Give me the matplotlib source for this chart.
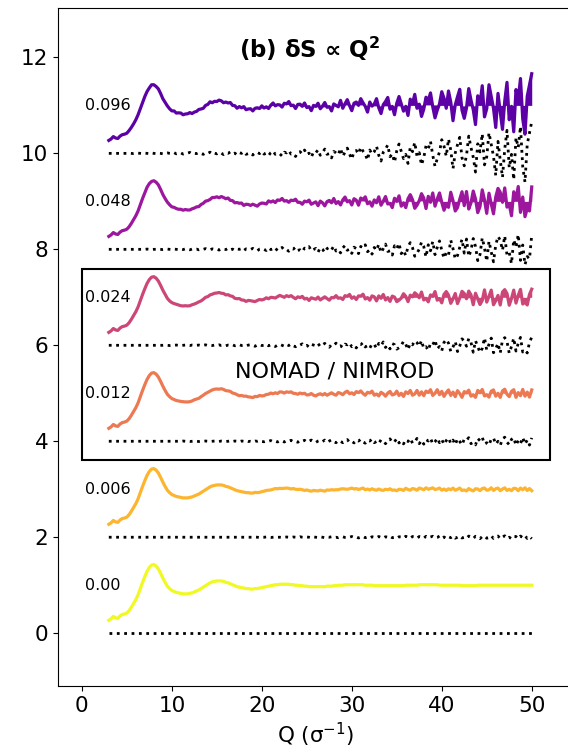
import numpy as np
import matplotlib
matplotlib.use("Agg")
import matplotlib.pyplot as plt
from matplotlib.patches import Rectangle

# S(Q), every 0.25 from Q = 3 to Q = 50
s_base = [
    0.27, 0.30, 0.35, 0.32, 0.31, 0.36, 0.39, 0.40,
    0.42, 0.47, 0.54, 0.62, 0.70, 0.80, 0.93, 1.06,
    1.18, 1.29, 1.37, 1.42, 1.43, 1.40, 1.34, 1.25,
    1.15, 1.06, 0.98, 0.93, 0.89, 0.87, 0.85, 0.84,
    0.83, 0.82, 0.82, 0.82, 0.83, 0.84, 0.86, 0.88,
    0.90, 0.93, 0.96, 0.99, 1.02, 1.05, 1.07, 1.08,
    1.09, 1.09, 1.09, 1.08, 1.06, 1.05, 1.03, 1.01,
    0.99, 0.97, 0.96, 0.95, 0.94, 0.93, 0.93, 0.92,
    0.92, 0.93, 0.93, 0.94, 0.95, 0.96, 0.97, 0.98,
    0.99, 1.00, 1.01, 1.01, 1.02, 1.02, 1.02, 1.02,
    1.02, 1.01, 1.01, 1.00, 1.00, 0.99, 0.99, 0.98,
    0.98, 0.97, 0.97, 0.97, 0.97, 0.97, 0.97, 0.97,
    0.97, 0.98, 0.98, 0.98, 0.99, 0.99, 1.00, 1.00,
    1.00, 1.01, 1.01, 1.01, 1.01, 1.01, 1.01, 1.01,
    1.01, 1.01, 1.00, 1.00, 1.00, 1.00, 0.99, 0.99,
    0.99, 0.99, 0.99, 0.99, 0.99, 0.99, 0.99, 0.99,
    0.99, 0.99, 0.99, 0.99, 1.00, 1.00, 1.00, 1.00,
    1.00, 1.00, 1.01, 1.01, 1.01, 1.01, 1.01, 1.01,
    1.01, 1.01, 1.01, 1.00, 1.00, 1.00, 1.00, 1.00,
    1.00, 1.00, 1.00, 1.00, 1.00, 0.99, 0.99, 0.99,
    0.99, 0.99, 0.99, 0.99, 1.00, 1.00, 1.00, 1.00,
    1.00, 1.00, 1.00, 1.00, 1.00, 1.00, 1.00, 1.00,
    1.00, 1.00, 1.00, 1.00, 1.00, 1.00, 1.00, 1.00,
    1.00, 1.00, 1.00, 1.00, 1.00,
]

# deviations from S(Q) for each noise level, in units of 1e-3 (same Q grid)
dev_096 = [
    0, 0, 0, 0, 0, 0, 0, 0,
    0, 5, 0, -5, 0, 5, 0, -5,
    5, 0, -5, 10, 0, -5, 5, 0,
    -10, 5, 10, 0, -5, 15, -10, 5,
    10, -15, 0, 5, 20, -10, 0, -5,
    15, -5, -20, 10, 0, 25, -15, 5,
    -10, 20, 5, -25, 10, 0, 30, -10,
    5, -30, 15, 0, 35, -20, -5, 10,
    -35, 10, 20, -5, 40, -15, 0, -45,
    15, 50, -20, 5, -10, -55, 25, 10,
    60, -15, -5, -65, 20, 35, -10, 70,
    -25, 5, -80, 30, 10, 75, -40, 15,
    90, -20, -5, -95, 40, 10, -30, 105,
    -60, 25, 110, -15, -120, 35, 60, -10,
    130, 45, -20, -140, 70, -15, 35, 150,
    -40, -160, 25, 90, 175, -70, -10, -185,
    55, 195, 40, -110, -20, -210, 130, 35,
    230, -60, 15, -240, -90, 160, 95, 250,
    -40, -270, -110, 30, 285, 150, -60, 300,
    70, -320, 10, 180, 335, -90, -260, -45,
    360, 120, -80, -390, 200, 30, 410, -240,
    -70, 430, 180, -60, -460, 250, -140, -500,
    90, 480, -300, -20, -550, 330, 120, 560,
    -280, -600, 190, 420, 660,
]
dev_048 = [
    0, 0, 0, 0, 0, 0, 0, 0,
    0, 0, 0, 0, 0, 0, 0, 0,
    0, 5, 0, -5, 0, 0, 5, 0,
    -5, 0, 5, 0, -5, 5, 0, -5,
    5, -5, 10, 0, -10, 5, 0, 5,
    -10, 5, 0, 15, -5, -10, 10, 0,
    5, -15, 10, 0, -5, 20, -10, 5,
    -20, 5, 0, 15, -25, 10, 5, -5,
    20, -10, -30, 5, 15, 0, -25, 30,
    -5, 10, -35, 20, 0, 40, -15, -5,
    -40, 15, 5, 45, -20, -10, -50, 25,
    10, 55, -30, -5, 20, -60, 35, 0,
    -65, 15, 40, -10, 70, -35, -5, -75,
    30, 80, -20, 5, -85, 45, 15, -90,
    60, 25, 95, -50, -10, -100, 40, -20,
    105, -70, 15, 110, -45, -30, -120, 75,
    10, 125, -90, -20, -130, 55, 140, 35,
    -145, -80, 5, 150, 60, -160, 95, -30,
    165, -110, 40, 175, -20, -185, -70, -125,
    190, 15, -200, -130, 45, 210, -80, 215,
    -150, -20, 225, 60, -235, -110, 240, 30,
    -250, 170, -55, -260, 90, 270, 190, -20,
    280, -120, -65, -300, 200, 45, 310, -230,
    90, -320, -150, -200, 300,
]
dev_024 = [
    0, 0, 0, 0, 0, 0, 0, 0,
    0, 0, 0, 0, 0, 0, 0, 0,
    0, 0, 0, 0, 0, 0, 0, 0,
    0, 5, 0, -5, 0, 0, 5, 0,
    -5, 0, 5, 0, -5, 5, 0, 0,
    5, -5, 0, 10, -5, 0, -5, 5,
    0, 10, -5, 0, -10, 5, 0, 10,
    -10, 0, 15, -5, 0, -15, 5, 10,
    0, -20, 5, 15, -5, 0, 20, -10,
    10, -5, -25, 5, 20, 0, -20, 15,
    -5, 25, -10, -30, 10, 5, 30, -15,
    0, -35, 20, 5, -10, 35, -25, 10,
    40, -5, -40, 15, 0, 45, -20, -10,
    -45, 25, 10, 50, -30, 0, -55, 20,
    15, 55, -35, -5, -60, 30, 20, -65,
    40, -10, 70, -45, 5, -75, 35, 15,
    -80, -50, -5, 85, 20, -90, 45, 10,
    95, 55, -20, 100, -65, -30, -105, 40,
    10, 110, -70, -25, -115, 60, 120, 45,
    -125, -35, 80, -130, -15, 135, 90, -20,
    140, 60, -145, 95, -30, -150, -65, 155,
    -100, 20, 150, -155, -70, 40, -160, 110,
    160, 80, -165, -25, 150, -120, 40, 165,
    -140, -100, -160, 60, 170,
]
dev_012 = [
    0, 0, 0, 0, 0, 0, 0, 0,
    0, 0, 0, 0, 0, 0, 0, 0,
    0, 0, 0, 0, 0, 0, 0, 0,
    0, 0, 0, 0, 0, 0, 0, 0,
    0, 5, 0, 0, -5, 0, 5, 0,
    -5, 0, 0, 5, 0, -5, 0, 5,
    0, -5, 5, 0, -5, 0, 10, -5,
    5, 0, -10, 5, 0, 10, -5, 0,
    -10, 5, 0, 15, -5, -10, 5, 0,
    15, -10, 0, -15, 10, 5, -15, 10,
    0, 20, -10, -5, -20, 15, 0, 20,
    -15, 0, 25, -10, -25, 5, 20, -5,
    25, -20, 5, 30, -10, -30, 15, 0,
    -30, 10, 35, -20, 0, -35, 25, 5,
    40, -15, -40, 20, 5, 45, -30, -5,
    -45, 30, 0, -50, 15, 50, -25, -10,
    55, -35, 10, -55, 30, -5, 60, -40,
    -15, 60, -50, 20, -60, 35, 5, 65,
    -55, -10, 65, -30, 40, -65, 15, 70,
    -45, 25, -70, 55, -5, -75, 45, 20,
    75, -50, -20, -75, 60, 10, 80, -55,
    -30, -80, 45, 70, -60, 0, -85, 50,
    85, -20, -70, 40, 75, -85, 15, -50,
    80, -60, 25, -80, 70,
]
dev_006 = [
    0, 0, 0, 0, 0, 0, 0, 0,
    0, 0, 0, 0, 0, 0, 0, 0,
    0, 0, 0, 0, 0, 0, 0, 0,
    0, 0, 0, 0, 0, 0, 0, 0,
    0, 0, 0, 0, 0, 0, 0, 0,
    0, 0, 0, 0, 0, 0, 0, 0,
    0, 0, 0, 0, 0, 0, 0, 0,
    0, 0, 0, 0, 0, 0, 0, 0,
    0, 5, 0, -5, 0, 0, 5, 0,
    -5, 0, 5, 0, 0, -5, 0, 5,
    0, -5, 5, 0, -5, 10, 0, -5,
    5, 0, -10, 5, 0, -5, 10, 0,
    -10, 5, 0, 10, -5, 0, -10, 5,
    10, -5, -10, 0, 15, -5, 5, -15,
    0, 15, -10, 5, -15, 10, 0, -10,
    15, -5, -15, 10, 0, 20, -10, -5,
    -20, 10, 5, -15, 20, -5, -20, 15,
    5, -20, 15, 0, -20, 20, -10, 5,
    20, -15, -5, 25, -20, 5, -25, 10,
    -10, 25, -20, 0, 25, -15, -5, -25,
    25, -5, -25, 20, 5, -30, 15, 25,
    -20, -10, 30, -25, 10, 25, -30, 5,
    30, -25, 0, -30, 20, 15, -30, 25,
    -10, 30, -25, 15, -30,
]
dev_000 = [0] * len(s_base)

levels = ["0.00", "0.006", "0.012", "0.024", "0.048", "0.096"]
deviations = [dev_000, dev_006, dev_012, dev_024, dev_048, dev_096]
offsets = [0, 2, 4, 6, 8, 10]
color_pos = [1.0, 5 / 6, 4 / 6, 3 / 6, 2 / 6, 1 / 6]


def main() -> None:
    q = np.linspace(3, 50, len(s_base))
    base = np.array(s_base)
    colors = plt.cm.plasma(color_pos)

    fig = plt.figure(figsize=(5.68, 7.53), dpi=100)
    ax = fig.add_axes([0.1021, 0.089, 0.9085, 0.9004])

    for lab, dev, off, col in zip(levels, deviations, offsets, colors):
        d = np.array(dev) * 1e-3
        assert len(d) == len(q), lab
        y = base + d + off
        ax.plot(q, y, color=col, lw=2.3)
        # shade between the noisy and the noise-free curve so the noise reads as a band
        ax.fill_between(q, base + off, y, color=col, lw=0, interpolate=True)
        ax.plot(q, d + off, color="k", ls=":", lw=2.0)
        ax.text(0.3, off + 1, lab, fontsize=11.5, va="center", ha="left")

    ax.add_patch(Rectangle((0, 3.6), 52, 4.0, fill=False, ec="k", lw=1.5))
    ax.text(28.1, 5.45, "NOMAD / NIMROD", fontsize=16, ha="center", va="center")
    ax.text(25.3, 12.18, r"(b) δS ∝ Q$^\mathbf{2}$", fontsize=16.5,
            fontweight="bold", ha="center", va="center")

    ax.set_xlim(-2.65, 54.7)
    ax.set_ylim(-1.1, 13.03)
    ax.spines["right"].set_visible(False)
    ax.set_xticks([0, 10, 20, 30, 40, 50])
    ax.set_yticks([0, 2, 4, 6, 8, 10, 12])
    ax.tick_params(labelsize=15.5)
    ax.set_xlabel("Q (σ$^{-1}$)", fontsize=15.5)

    fig.savefig("out.png", dpi=100)
    plt.close(fig)


if __name__ == "__main__":
    main()
